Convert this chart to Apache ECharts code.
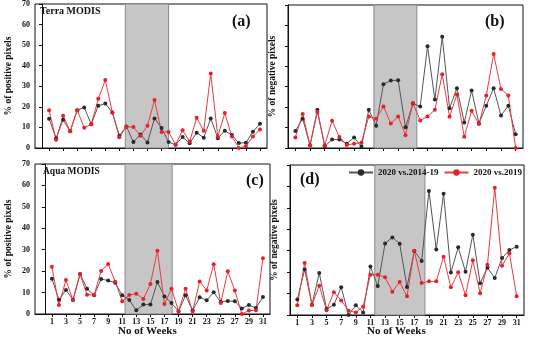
<!DOCTYPE html>
<html><head><meta charset="utf-8">
<script src="https://cdn.jsdelivr.net/npm/echarts@6/dist/echarts.min.js"></script>
<style>html,body{margin:0;padding:0;background:#fff}#c{width:534px;height:341px}</style>
</head><body><div id="c"></div>
<script>
const weeks = Array.from({length: 31}, (_, i) => i + 1);
const oddWeeks = [1,3,5,7,9,11,13,15,17,19,21,23,25,27,29,31];
const yTicks = [0,10,20,30,40,50,60,70];
const seriesNames = ['2020 vs.2014-19', '2020 vs.2019'];

// (a) Terra MODIS, % of positive pixels
const aBlack = [14.2,4.8,13.7,8.1,18.4,19.7,11.6,20.5,21.6,17.3,6,10.5,2.9,6.6,2.7,14.4,9.7,2.9,1.6,5.3,2.3,7.4,5,14.4,4.8,8.4,6.3,2.4,2.6,7.9,11.8];
const aRed   = [18.4,4,15.7,8.1,18.4,9.9,11.6,23.9,33,17.3,5.2,10.3,10.2,6,10.8,23.3,7.8,7.8,1.6,8.6,3.1,14.7,8.4,36.2,5.5,17,5.6,0,0.8,5.6,9];
// (b) Terra MODIS, % of negative pixels
const bBlack = [8.3,14.3,1.3,18.7,0.8,4.2,4.1,2.1,5.2,0.7,18.7,10.9,31.2,33,33.2,10.1,21.8,20.3,49.8,23.7,54.5,19.5,29.3,12.5,28.1,12,20.7,29.3,15.9,20.7,6.7];
const bRed   = [5.2,16.7,1.3,17.6,1.3,13.3,5.4,1.5,2.1,2.6,15.4,14.3,20.3,12,15.4,6.3,22,13.5,15.4,18.7,36.1,15.3,26.2,5.5,18.2,11.7,25.7,46,28.9,25.7,0];
// (c) Aqua MODIS, % of positive pixels
const cBlack = [16.5,6.7,11.2,6.7,18.7,11.8,8.7,16.3,15.6,14.6,8.7,6.5,1.7,4.4,4.4,14.9,8.2,5.1,1.2,8.7,1.6,7.8,6.4,10.1,5.6,6.1,5.9,2.6,4.2,2.8,7.9];
const cRed   = [22.1,4.2,15.9,6.4,18.5,9,8.9,20.1,23.3,15.1,5.9,8.9,9.5,7,14,29.5,4.7,11.8,1.4,11.8,1.2,15.2,11,23.2,5.1,19.9,11,0,1.6,1.7,26];
// (d) Aqua MODIS, % of negative pixels
const dBlack = [7.2,21.2,4.8,19.6,2.8,4.8,12.9,0,4.5,1.2,22.6,13.5,33.4,36.2,33.3,13.1,29.9,25.2,57.9,30.6,56.6,19.8,31.6,20.2,37.5,14.8,22.1,17.3,26.6,30.3,31.9];
const dRed   = [4.5,24.3,4.7,13.7,2.2,10.6,6.8,2,1.2,3.9,18.8,18.8,17.6,10.9,15.4,8.7,30,14.9,15.7,15.7,27.2,12.9,19.9,9.2,25.5,10.1,23.5,59.4,23,28.8,8.7];
// lockdown shading ranges (week units)
const shadeA = [11.85, 18];
const shadeB = [11.7, 17.55];
const shadeC = [11.4, 18.1];
const shadeD = [11.6, 18.45];

const FONT = '"Liberation Serif", "DejaVu Serif", serif';
const panels = [
  {grid:{left:35, top:4, width:232, height:144}, xMin:-1, xMax:32, yLabels:true, xLabels:false, yName:'% of positive pixels', data:[aBlack,aRed], shade:shadeA},
  {grid:{left:288, top:5, width:235, height:143}, xMin:0, xMax:32, yLabels:false, xLabels:false, yName:'% of negative pixels', data:[bBlack,bRed], shade:shadeB},
  {grid:{left:35, top:164, width:235, height:150}, xMin:-1.4, xMax:32, yLabels:true, xLabels:true, yName:'% of positive pixels', data:[cBlack,cRed], shade:shadeC},
  {grid:{left:290, top:165, width:234, height:150}, xMin:0, xMax:32, yLabels:false, xLabels:true, yName:'% of negative pixels', data:[dBlack,dRed], shade:shadeD}
];

const grid = [], xAxis = [], yAxis = [], series = [];
panels.forEach((p, i) => {
  grid.push(Object.assign({show:true, borderColor:'#111', borderWidth:1, backgroundColor:'transparent'}, p.grid));
  xAxis.push({
    type:'value', gridIndex:i, min:p.xMin, max:p.xMax,
    splitLine:{show:false},
    axisLine:{show:true, onZero:false, lineStyle:{color:'#111', width:1}},
    axisTick:{show:true, length:3, inside:false, customValues:oddWeeks, lineStyle:{color:'#111'}},
    axisLabel:{show:p.xLabels, customValues:oddWeeks, margin:4, fontFamily:FONT, fontWeight:'bold', fontSize:8, color:'#111'}
  });
  yAxis.push({
    type:'value', gridIndex:i, min:0, max:70, interval:10,
    name:p.yName, nameLocation:'middle', nameGap: p.yLabels ? 21 : 10, nameRotate:90,
    nameTextStyle:{fontFamily:FONT, fontWeight:'bold', fontSize:9.5, color:'#111'},
    splitLine:{show:false},
    axisLine:{show:true, lineStyle:{color:'#111', width:1}},
    axisTick:{show:true, length:3, inside:false, lineStyle:{color:'#111'}},
    axisLabel:{show:p.yLabels, margin:5, fontFamily:FONT, fontWeight:'bold', fontSize:8, color:'#111'}
  });
  series.push({
    type:'line', xAxisIndex:i, yAxisIndex:i, data:[], z:1, silent:true,
    markArea:{silent:true, itemStyle:{color:'#c6c6c6', borderColor:'#8a8a8a', borderWidth:1},
      data:[[{xAxis:p.shade[0]}, {xAxis:p.shade[1]}]]}
  });
  const colors = ['#2a2a2a', '#e8202a'];
  const lineColors = ['#555555', '#ee3a40'];
  p.data.forEach((arr, k) => {
    series.push({
      name:seriesNames[k], type:'line', xAxisIndex:i, yAxisIndex:i, z:3,
      data: weeks.map((w, j) => [w, arr[j]]),
      symbol:'circle', symbolSize:4, showSymbol:true,
      itemStyle:{color:colors[k]},
      lineStyle:{color:lineColors[k], width:1},
      animation:false
    });
  });
});

const chart = echarts.init(document.getElementById('c'), null, {renderer:'canvas'});
chart.setOption({
  animation:false,
  backgroundColor:'#fff',
  grid, xAxis, yAxis, series,
  legend:{
    left:348, top:168, width:186, padding:0, orient:'horizontal',
    itemWidth:24, itemHeight:8, itemGap:5,
    data:seriesNames,
    textStyle:{fontFamily:FONT, fontWeight:'bold', fontSize:9, color:'#111'}
  },
  graphic:[
    {type:'text', left:40, top:6, style:{text:'Terra MODIS', font:'bold 10px ' + FONT, fill:'#111'}},
    {type:'text', left:232, top:14, style:{text:'(a)', font:'bold 16px ' + FONT, fill:'#111'}},
    {type:'text', left:485, top:14, style:{text:'(b)', font:'bold 16px ' + FONT, fill:'#111'}},
    {type:'text', left:43, top:167, style:{text:'Aqua MODIS', font:'bold 9.5px ' + FONT, fill:'#111'}},
    {type:'text', left:246, top:173, style:{text:'(c)', font:'bold 16px ' + FONT, fill:'#111'}},
    {type:'text', left:300, top:172, style:{text:'(d)', font:'bold 16px ' + FONT, fill:'#111'}},
    {type:'text', left:118, top:326, style:{text:'No of Weeks', font:'bold 11px ' + FONT, fill:'#111'}},
    {type:'text', left:367, top:326, style:{text:'No of Weeks', font:'bold 11px ' + FONT, fill:'#111'}}
  ]
});
</script></body></html>
